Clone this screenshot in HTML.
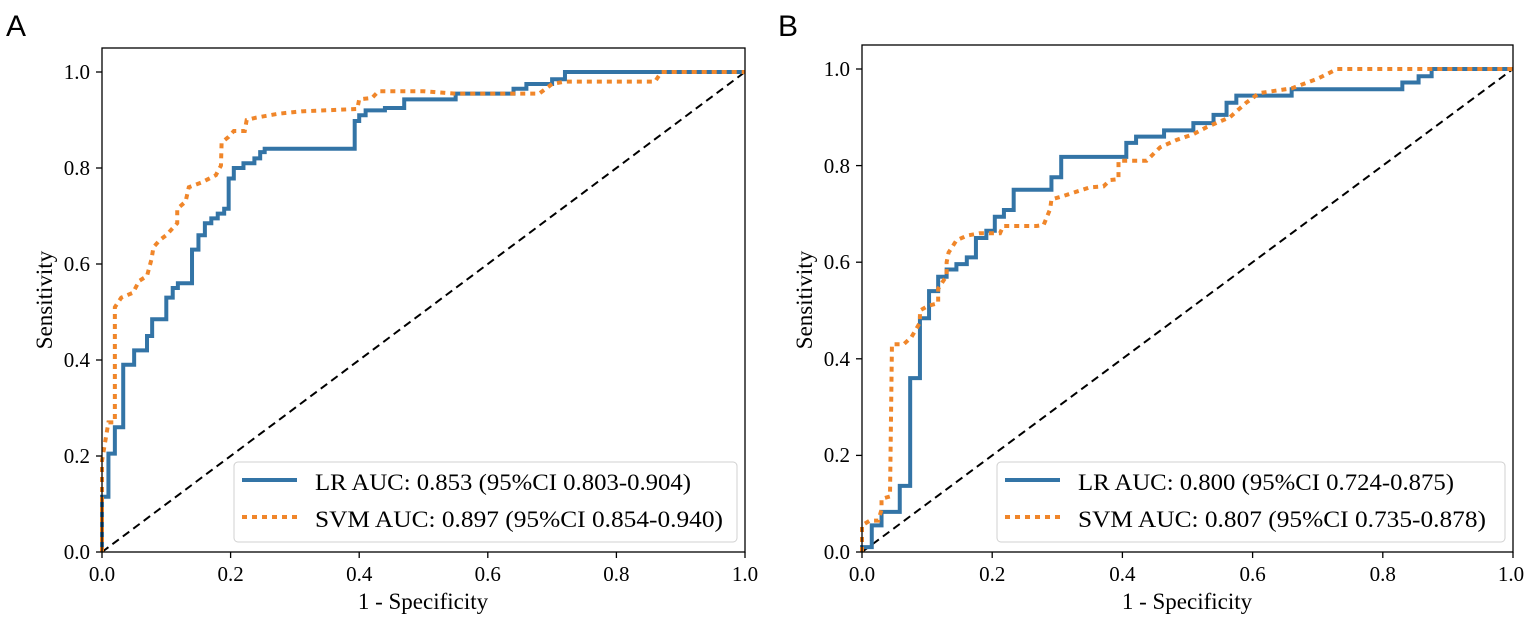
<!DOCTYPE html>
<html><head><meta charset="utf-8"><style>
html,body{margin:0;padding:0;background:#fff;}
svg{display:block;}
text{font-family:"Liberation Serif",serif;fill:#000;}
.lr{fill:none;stroke:#3374a6;stroke-width:4;vector-effect:non-scaling-stroke;stroke-linejoin:miter;}
.svm{fill:none;stroke:#f0862a;stroke-width:4;stroke-dasharray:5 5;vector-effect:non-scaling-stroke;}
.dg{fill:none;stroke:#000;stroke-width:2;stroke-dasharray:8 5;vector-effect:non-scaling-stroke;}
</style></head><body>
<svg width="1535" height="620" viewBox="0 0 1535 620" xmlns="http://www.w3.org/2000/svg">
<text x="6" y="36" style="font-family:'Liberation Sans',sans-serif;font-size:30px">A</text>
<text x="778" y="36" style="font-family:'Liberation Sans',sans-serif;font-size:30px">B</text>

<!-- Panel A -->
<g transform="translate(102,552) scale(643,-480)">
<line class="dg" x1="0" y1="0" x2="1" y2="1"/>
<polyline class="lr" points="0,0 0,0.115 0.01,0.115 0.01,0.205 0.02,0.205 0.02,0.26 0.033,0.26 0.033,0.39 0.05,0.39 0.05,0.42 0.07,0.42 0.07,0.45 0.078,0.45 0.078,0.485 0.1,0.485 0.1,0.53 0.11,0.53 0.11,0.55 0.118,0.55 0.118,0.56 0.14,0.56 0.14,0.63 0.15,0.63 0.15,0.66 0.16,0.66 0.16,0.685 0.17,0.685 0.17,0.695 0.18,0.695 0.18,0.705 0.19,0.705 0.19,0.715 0.197,0.715 0.197,0.778 0.205,0.778 0.205,0.8 0.22,0.8 0.22,0.81 0.237,0.81 0.237,0.82 0.246,0.82 0.246,0.833 0.253,0.833 0.253,0.84 0.393,0.84 0.393,0.898 0.4,0.898 0.4,0.91 0.41,0.91 0.41,0.92 0.44,0.92 0.44,0.925 0.47,0.925 0.47,0.943 0.55,0.943 0.55,0.955 0.64,0.955 0.64,0.965 0.66,0.965 0.66,0.975 0.70,0.975 0.70,0.985 0.72,0.985 0.72,1 1,1"/>
<polyline class="svm" points="0,0 0,0.19 0.01,0.27 0.02,0.27 0.02,0.51 0.03,0.53 0.048,0.54 0.058,0.565 0.07,0.575 0.077,0.61 0.08,0.635 0.09,0.65 0.1,0.66 0.117,0.685 0.117,0.715 0.13,0.73 0.135,0.76 0.155,0.77 0.177,0.785 0.185,0.805 0.186,0.853 0.197,0.865 0.205,0.877 0.222,0.877 0.225,0.9 0.24,0.905 0.274,0.913 0.31,0.918 0.397,0.923 0.40,0.943 0.42,0.946 0.43,0.96 0.5,0.96 0.55,0.955 0.68,0.955 0.7,0.975 0.72,0.98 0.86,0.98 0.87,1 1,1"/>
</g>
<rect x="102" y="48" width="643" height="504" fill="none" stroke="#000" stroke-width="1.3"/>
<g stroke="#000" stroke-width="1.3">
<line x1="102" y1="552" x2="102" y2="558"/><line x1="230.6" y1="552" x2="230.6" y2="558"/><line x1="359.2" y1="552" x2="359.2" y2="558"/><line x1="487.8" y1="552" x2="487.8" y2="558"/><line x1="616.4" y1="552" x2="616.4" y2="558"/><line x1="745" y1="552" x2="745" y2="558"/>
<line x1="96" y1="552" x2="102" y2="552"/><line x1="96" y1="456" x2="102" y2="456"/><line x1="96" y1="360" x2="102" y2="360"/><line x1="96" y1="264" x2="102" y2="264"/><line x1="96" y1="168" x2="102" y2="168"/><line x1="96" y1="72" x2="102" y2="72"/>
</g>
<g style="font-size:21px" text-anchor="middle">
<text x="102" y="581">0.0</text><text x="230.6" y="581">0.2</text><text x="359.2" y="581">0.4</text><text x="487.8" y="581">0.6</text><text x="616.4" y="581">0.8</text><text x="745" y="581">1.0</text>
</g>
<g style="font-size:21px" text-anchor="end">
<text x="90" y="559">0.0</text><text x="90" y="463">0.2</text><text x="90" y="367">0.4</text><text x="90" y="271">0.6</text><text x="90" y="175">0.8</text><text x="90" y="79">1.0</text>
</g>
<text x="423" y="609" text-anchor="middle" style="font-size:23px">1 - Specificity</text>
<text transform="translate(52,300) rotate(-90)" text-anchor="middle" style="font-size:23px">Sensitivity</text>
<rect x="234" y="462" width="503" height="80" rx="4" fill="#fff" fill-opacity="0.85" stroke="#d0d0d0" stroke-width="1"/>
<line x1="242" y1="480" x2="297" y2="480" stroke="#3374a6" stroke-width="4"/>
<line x1="242" y1="517" x2="297" y2="517" stroke="#f0862a" stroke-width="4" stroke-dasharray="5 5"/>
<text x="315" y="490" style="font-size:23.5px" textLength="376" lengthAdjust="spacingAndGlyphs">LR AUC: 0.853 (95%CI 0.803-0.904)</text>
<text x="315" y="527" style="font-size:23.5px" textLength="408" lengthAdjust="spacingAndGlyphs">SVM AUC: 0.897 (95%CI 0.854-0.940)</text>

<!-- Panel B -->
<g transform="translate(862,552) scale(651,-483)">
<line class="dg" x1="0" y1="0" x2="1" y2="1"/>
<polyline class="lr" points="0,0 0,0.01 0.015,0.01 0.015,0.055 0.03,0.055 0.03,0.083 0.058,0.083 0.058,0.137 0.074,0.137 0.074,0.36 0.089,0.36 0.089,0.484 0.103,0.484 0.103,0.54 0.117,0.54 0.117,0.57 0.13,0.57 0.13,0.585 0.145,0.585 0.145,0.596 0.161,0.596 0.161,0.61 0.175,0.61 0.175,0.65 0.191,0.65 0.191,0.665 0.204,0.665 0.204,0.694 0.218,0.694 0.218,0.708 0.233,0.708 0.233,0.75 0.291,0.75 0.291,0.776 0.306,0.776 0.306,0.818 0.406,0.818 0.406,0.847 0.421,0.847 0.421,0.86 0.464,0.86 0.464,0.873 0.509,0.873 0.509,0.888 0.54,0.888 0.54,0.905 0.56,0.905 0.56,0.93 0.575,0.93 0.575,0.945 0.66,0.945 0.66,0.958 0.83,0.958 0.83,0.972 0.855,0.972 0.855,0.985 0.875,0.985 0.875,1 1,1"/>
<polyline class="svm" points="0,0 0,0.025 0,0.055 0.012,0.065 0.025,0.065 0.03,0.088 0.03,0.11 0.043,0.115 0.046,0.43 0.064,0.43 0.076,0.445 0.089,0.475 0.089,0.5 0.102,0.51 0.117,0.515 0.117,0.545 0.13,0.572 0.13,0.6 0.133,0.62 0.145,0.645 0.161,0.655 0.181,0.66 0.212,0.66 0.217,0.675 0.268,0.675 0.279,0.677 0.289,0.71 0.291,0.73 0.309,0.737 0.35,0.755 0.371,0.757 0.381,0.77 0.394,0.772 0.394,0.81 0.437,0.81 0.458,0.838 0.483,0.853 0.509,0.865 0.53,0.88 0.565,0.9 0.59,0.93 0.61,0.95 0.66,0.96 0.7,0.98 0.73,1 1,1"/>
</g>
<rect x="862" y="45" width="651" height="507" fill="none" stroke="#000" stroke-width="1.3"/>
<g stroke="#000" stroke-width="1.3">
<line x1="862" y1="552" x2="862" y2="558"/><line x1="992.2" y1="552" x2="992.2" y2="558"/><line x1="1122.4" y1="552" x2="1122.4" y2="558"/><line x1="1252.6" y1="552" x2="1252.6" y2="558"/><line x1="1382.8" y1="552" x2="1382.8" y2="558"/><line x1="1513" y1="552" x2="1513" y2="558"/>
<line x1="856" y1="552" x2="862" y2="552"/><line x1="856" y1="455.4" x2="862" y2="455.4"/><line x1="856" y1="358.8" x2="862" y2="358.8"/><line x1="856" y1="262.2" x2="862" y2="262.2"/><line x1="856" y1="165.6" x2="862" y2="165.6"/><line x1="856" y1="69" x2="862" y2="69"/>
</g>
<g style="font-size:21px" text-anchor="middle">
<text x="862" y="581">0.0</text><text x="992.2" y="581">0.2</text><text x="1122.4" y="581">0.4</text><text x="1252.6" y="581">0.6</text><text x="1382.8" y="581">0.8</text><text x="1511" y="581">1.0</text>
</g>
<g style="font-size:21px" text-anchor="end">
<text x="850" y="559">0.0</text><text x="850" y="462">0.2</text><text x="850" y="366">0.4</text><text x="850" y="269">0.6</text><text x="850" y="173">0.8</text><text x="850" y="76">1.0</text>
</g>
<text x="1187" y="609" text-anchor="middle" style="font-size:23px">1 - Specificity</text>
<text transform="translate(812,300) rotate(-90)" text-anchor="middle" style="font-size:23px">Sensitivity</text>
<rect x="997" y="462" width="508" height="80" rx="4" fill="#fff" fill-opacity="0.85" stroke="#d0d0d0" stroke-width="1"/>
<line x1="1005" y1="480" x2="1060" y2="480" stroke="#3374a6" stroke-width="4"/>
<line x1="1005" y1="517" x2="1060" y2="517" stroke="#f0862a" stroke-width="4" stroke-dasharray="5 5"/>
<text x="1078" y="490" style="font-size:23.5px" textLength="376" lengthAdjust="spacingAndGlyphs">LR AUC: 0.800 (95%CI 0.724-0.875)</text>
<text x="1078" y="527" style="font-size:23.5px" textLength="408" lengthAdjust="spacingAndGlyphs">SVM AUC: 0.807 (95%CI 0.735-0.878)</text>
</svg>
</body></html>
